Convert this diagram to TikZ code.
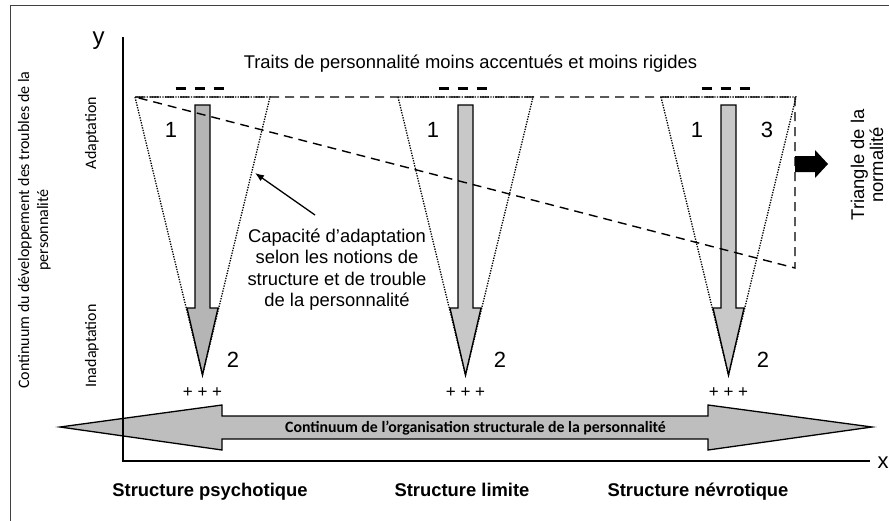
\documentclass[tikz,border=0pt]{standalone}
\usepackage{fontspec}
\setmainfont{Liberation Sans}
\newfontfamily\carl{Carlito}
\usetikzlibrary{arrows.meta}
\definecolor{gA}{HTML}{B5B5B5}
\definecolor{gB}{HTML}{C8C8C8}
\definecolor{gC}{HTML}{BEBEBE}
\begin{document}
\begin{tikzpicture}[x=1pt,y=-1pt,
  txt/.style={inner sep=0pt,font=\fontsize{18.4}{21.7}\selectfont},
  txtb/.style={inner sep=0pt,font=\fontsize{18.4}{21.7}\selectfont\bfseries},
  num/.style={inner sep=0pt,font=\fontsize{22}{26}\selectfont},
  cal/.style={inner sep=0pt,font=\carl\fontsize{16}{19}\selectfont},
  plus/.style={inner sep=0pt,font=\fontsize{17}{20}\selectfont},
  dotline/.style={line width=1.3pt,dash pattern=on 1.3pt off 1.3pt},
  dashline/.style={line width=1.4pt,dash pattern=on 9pt off 6pt},
  varrow/.style={draw=black,line width=1.3pt,line join=miter},
  marks/.style={line width=3pt,dash pattern=on 10pt off 9pt}]
\useasboundingbox (0,0) rectangle (889,520);
\clip (0,0) rectangle (889,520);
% frame
\draw[line width=1pt,black!75] (10,530) -- (10,5) -- (900,5);
% horizontal double arrow
\draw[varrow,fill=gC] (60,427) -- (222,405) -- (222,416) -- (708,416) -- (708,405) -- (872,427) -- (708,450) -- (708,439) -- (222,439) -- (222,450) -- cycle;
\node[cal,font=\carl\fontsize{15.8}{19}\selectfont\bfseries,anchor=base] (cont) at (475.5,432) {Continuum de l’organisation structurale de la personnalité};
% axes
\coordinate (ytop) at (123,37);
\coordinate (orig) at (123,461);
\coordinate (xend) at (870,461);
\draw[line width=1.5pt] (ytop) -- (orig) -- (xend);
\node[inner sep=0pt,font=\fontsize{24}{28}\selectfont,anchor=base] (ylab) at (98.5,44) {y};
\node[inner sep=0pt,font=\fontsize{22}{26}\selectfont,anchor=base west] (xlab) at (877.5,468) {x};
% vertical arrows
\foreach \c/\col/\n in {202.5/gA/a, 465.5/gB/b, 728.5/gB/c}{
  \draw[varrow,fill=\col] (\c-7.5,105) -- (\c+7.5,105) -- (\c+7.5,308) -- (\c+15.5,308) -- (\c,375) -- (\c-15.5,308) -- (\c-7.5,308) -- cycle;
  \coordinate (tl\n) at (\c-67.5,97);
  \coordinate (tr\n) at (\c+67.5,97);
  \coordinate (ap\n) at (\c,375);
  \draw[marks] (\c-27,88) -- (\c+21,88);
  \node[plus,anchor=base] (pl\n) at (\c,397) {+ + +};
}
% normality triangle
\coordinate (n1) at (135,97);
\coordinate (n2) at (795,97);
\coordinate (n3) at (795,268);
\draw[dashline] (n1) -- (n2) -- (n3) -- cycle;
% dotted triangles
\foreach \n in {a,b,c}{
  \draw[dotline] (tl\n) -- (ap\n) -- (tr\n) -- cycle;
}
% black arrow
\fill[black] (795,156) -- (815,156) -- (815,150) -- (828,164) -- (815,178) -- (815,172) -- (795,172) -- cycle;
% numbers
\node[num,anchor=base] (o1) at (171,137) {1};
\node[num,anchor=base] (o2) at (433,137) {1};
\node[num,anchor=base] (o3) at (697,137) {1};
\node[num,anchor=base] (t3) at (767,137) {3};
\node[num,anchor=base] (d1) at (233,367) {2};
\node[num,anchor=base] (d2) at (500,367) {2};
\node[num,anchor=base] (d3) at (763,367) {2};
% title
\node[txt,anchor=base] (title) at (470.5,68) {Traits de personnalité moins accentués et moins rigides};
% caption
\node[txt,anchor=base] (c1) at (337,242) {Capacité d’adaptation};
\node[txt,anchor=base] (c2) at (337,263.5) {selon les notions de};
\node[txt,anchor=base] (c3) at (337,285) {structure et de trouble};
\node[txt,anchor=base] (c4) at (337,306.5) {de la personnalité};
\coordinate (cs) at (315,215);
\coordinate (ce) at (255,173);
\draw[line width=1.3pt,-{Latex[length=9pt,width=7pt]}] (cs) -- (ce);
% bottom labels
\node[txtb,anchor=base] (s1) at (210,496) {Structure psychotique};
\node[txtb,anchor=base] (s2) at (462,496) {Structure limite};
\node[txtb,anchor=base] (s3) at (698,496) {Structure névrotique};
% rotated labels
\node[cal,rotate=90,anchor=base] (l1) at (29,230) {Continuum du développement des troubles de la};
\node[cal,rotate=90,anchor=base] (l2) at (48,230) {personnalité};
\node[cal,rotate=90,anchor=base] (ad) at (96,133) {Adaptation};
\node[cal,rotate=90,anchor=base] (inad) at (96,346) {Inadaptation};
\node[txt,rotate=90,anchor=base] (tn1) at (864,165) {Triangle de la};
\node[txt,rotate=90,anchor=base] (tn2) at (883,165) {normalité};
\end{tikzpicture}
\end{document}
